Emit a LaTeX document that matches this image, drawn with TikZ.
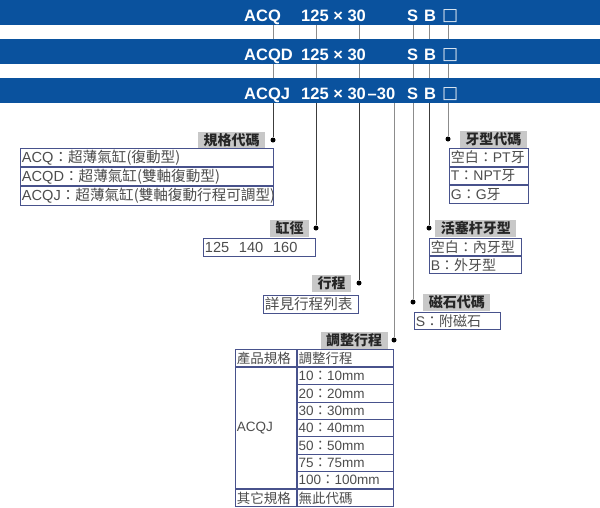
\documentclass[tikz,border=0pt]{standalone}
\usepackage{fontspec}
\setmainfont{Noto Sans CJK TC}
\newfontfamily\barfont{Liberation Sans}
\newfontfamily\latin{Liberation Sans}
\newfontfamily\symfont{DejaVu Sans}
\usepackage{tikz}
\usetikzlibrary{positioning}
\usetikzlibrary{calc}

\definecolor{barblue}{RGB}{10,82,158}
\definecolor{tblline}{RGB}{72,82,140}
\definecolor{lblgray}{RGB}{200,200,200}
\definecolor{darkline}{RGB}{60,60,60}
\definecolor{lightline}{RGB}{140,140,140}

\tikzset{
	bar/.style={fill=barblue, minimum width=600pt, minimum height=25pt, inner sep=0pt},
	bartext/.style={text=white, font=\barfont\bfseries\fontsize{16.5}{16.5}\selectfont, inner sep=0pt, anchor=base west},
	boxglyph/.style={text=white!90!barblue, font=\symfont\fontsize{17}{17}\selectfont, inner sep=0pt, anchor=base west},
	dotmark/.style={circle, fill=black, inner sep=0pt, minimum size=5pt},
	lbl/.style={fill=lblgray, text=black!85, font=\bfseries\fontsize{14}{14}\selectfont, inner xsep=5.5pt, inner ysep=0pt, minimum height=17pt},
	cell/.style={draw=tblline, line width=0.8pt, anchor=north west, inner xsep=1.5pt, inner ysep=0pt, align=left, text=black!70, font=\fontsize{13.5}{14}\selectfont},
	widecell/.style={cell, font=\fontsize{14.6}{15}\selectfont},
	sidecell/.style={cell, font=\fontsize{14}{15}\selectfont},
	link/.style={line width=1pt}
}

\begin{document}
\begin{tikzpicture}[x=1pt,y=-1pt]
\useasboundingbox (0,0) rectangle (600,507);

\node (bar1) [bar] at (300,12.5) {};
\node (bar2) [bar] at (300,51.5) {};
\node (bar3) [bar] at (300,90.5) {};

\node (m1) [bartext] at (244,21) {ACQ};
\node (m2) [bartext] at (244,60) {ACQD};
\node (m3) [bartext] at (244,99) {ACQJ};
\foreach \y/\n in {21/1,60/2,99/3}{
	\node (bore\n) [bartext] at (301,\y) {125 × 30};
	\node (s\n) [bartext] at (407,\y) {S};
	\node (b\n) [bartext] at (424,\y) {B};
	\node (q\n) [boxglyph] at (442,\y-1) {□};
}
\node (adj3) [bartext] at (367.5,99) {–30};

\node (gg) [dotmark] at (273,140) {};
\node (gj) [dotmark] at (316,228) {};
\node (xc) [dotmark] at (359,283) {};
\node (tz) [dotmark] at (394,340) {};
\node (cs) [dotmark] at (413,302) {};
\node (hs) [dotmark] at (429,228) {};
\node (yx) [dotmark] at (448,139) {};

\foreach \d/\c in {gg/darkline,gj/darkline,xc/darkline,hs/darkline,cs/lightline,yx/lightline}{
	\draw [link,lightline] (bar1.south -| \d) -- (bar2.north -| \d);
	\draw [link,lightline] (bar2.south -| \d) -- (bar3.north -| \d);
	\draw [link,\c] (bar3.south -| \d) -- (\d);
}
\draw [link,lightline] (bar3.south -| tz) -- (tz);

\node (gg-t) [lbl, left=5pt of gg] {規格代碼};
\node (gj-t) [lbl, left=4pt of gj] {缸徑};
\node (xc-t) [lbl, left=5pt of xc] {行程};
\node (tz-t) [lbl, left=3.5pt of tz] {調整行程};
\node (yx-t) [lbl, right=9pt of yx] {牙型代碼};
\node (hs-t) [lbl, right=3.5pt of hs] {活塞杆牙型};
\node (cs-t) [lbl, right=7.5pt of cs] {磁石代碼};

\node (gg-1) [widecell, text width=250pt, minimum height=18.3pt] at (20,148) {{\latin ACQ}：超薄氣缸(復動型)};
\node (gg-2) [widecell, text width=250pt, minimum height=18.3pt] at (gg-1.south west) {{\latin ACQD}：超薄氣缸(雙軸復動型)};
\node (gg-3) [widecell, text width=250pt, minimum height=18.3pt] at (gg-2.south west) {{\latin ACQJ}：超薄氣缸(雙軸復動行程可調型)};

\node (gj-1) [widecell, text width=109pt, minimum height=17.5pt] at (203,238) {\latin 125\ \ 140\ \ 160};

\node (xc-1) [widecell, text width=92pt, minimum height=18pt] at (263,295) {詳見行程列表};

\node (tz-h1) [cell, text width=58pt, minimum height=17.3pt] at (235,349) {產品規格};
\node (tz-h2) [cell, text width=93pt, minimum height=17.3pt] at (tz-h1.north east) {調整行程};
\node (tz-m) [cell, text width=58pt, minimum height=121.1pt] at (tz-h1.south west) {\latin ACQJ};
\foreach \v [count=\i] in {10,20,30,40,50,75,100}
	\node (tz-r\i) [cell, text width=93pt, minimum height=17.3pt] at ($(tz-h2.south west)+(0,{(\i-1)*17.3})$) {{\latin\v}：{\latin\v mm}};
\node (tz-o1) [cell, text width=58pt, minimum height=17.3pt] at (tz-m.south west) {其它規格};
\node (tz-o2) [cell, text width=93pt, minimum height=17.3pt] at (tz-o1.north east) {無此代碼};

\node (yx-1) [sidecell, text width=76pt, minimum height=17.7pt] at (449,148) {空白：{\latin PT}牙};
\node (yx-2) [sidecell, text width=76pt, minimum height=17.7pt] at (yx-1.south west) {{\latin T}：{\latin NPT}牙};
\node (yx-3) [sidecell, text width=76pt, minimum height=17.7pt] at (yx-2.south west) {{\latin G}：{\latin G}牙};

\node (hs-1) [sidecell, text width=89pt, minimum height=17pt] at (429,238) {空白：內牙型};
\node (hs-2) [sidecell, text width=89pt, minimum height=17pt] at (hs-1.south west) {{\latin B}：外牙型};

\node (cs-1) [sidecell, text width=83pt, minimum height=17pt] at (414,312) {{\latin S}：附磁石};
\end{tikzpicture}
\end{document}
